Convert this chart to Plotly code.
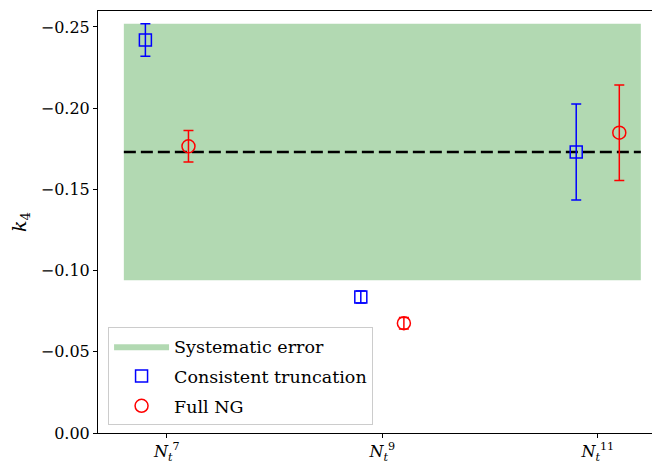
import plotly.graph_objects as go

# Data
truncation_x = [6.8, 8.8, 10.8]
truncation_y = [-0.242, -0.0837, -0.173]
truncation_err = [0.010, 0.0037, 0.0295]

fullng_x = [7.2, 9.2, 11.2]
fullng_y = [-0.1765, -0.0676, -0.1849]
fullng_err = [0.0097, 0.0035, 0.0294]

band_x = [6.6, 11.4]
band_center = -0.173
band_half = 0.079

x_tickvals = [7, 9, 11]
x_ticktext = ["<i>N</i><sub><i>t</i></sub><sup>7</sup>",
              "<i>N</i><sub><i>t</i></sub><sup>9</sup>",
              "<i>N</i><sub><i>t</i></sub><sup>11</sup>"]
y_tickvals = [0.0, -0.05, -0.10, -0.15, -0.20, -0.25]
y_ticktext = ["0.00", "\u22120.05", "\u22120.10", "\u22120.15", "\u22120.20", "\u22120.25"]

FONT = "DejaVu Serif"

fig = go.Figure()

lo = band_center - band_half
hi = band_center + band_half
fig.add_trace(go.Scatter(
    x=[band_x[0], band_x[1], band_x[1], band_x[0], band_x[0]],
    y=[lo, lo, hi, hi, lo],
    fill="toself", fillcolor="rgba(0,128,0,0.3)",
    line=dict(width=0, color="rgba(0,128,0,0)"),
    mode="lines", name="Systematic error", legendgroup="a",
    hoverinfo="skip",
))

fig.add_trace(go.Scatter(
    x=band_x, y=[band_center, band_center], mode="lines",
    line=dict(color="black", width=2.6, dash="12px,5px"),
    showlegend=False,
))

fig.add_trace(go.Scatter(
    x=truncation_x, y=truncation_y, mode="markers",
    marker=dict(symbol="square-open", size=12, color="blue", line=dict(width=1.5, color="blue")),
    error_y=dict(type="data", array=truncation_err, color="blue", thickness=1.5, width=5),
    name="Consistent truncation", legendgroup="b",
))

fig.add_trace(go.Scatter(
    x=fullng_x, y=fullng_y, mode="markers",
    marker=dict(symbol="circle-open", size=13, color="red", line=dict(width=1.5, color="red")),
    error_y=dict(type="data", array=fullng_err, color="red", thickness=1.5, width=5),
    name="Full NG", legendgroup="c",
))

# The page body has an 8px margin; size the figure so the plot area lands where the reference has it.
fig.update_layout(
    width=652, height=458,
    margin=dict(l=90, r=2, t=2, b=32),
    paper_bgcolor="white", plot_bgcolor="white",
    font=dict(family=FONT, size=16, color="black"),
    showlegend=True,
    legend=dict(
        x=0.018, y=0.018, xanchor="left", yanchor="bottom",
        bgcolor="rgba(255,255,255,0.8)", bordercolor="#cccccc", borderwidth=1,
        font=dict(family=FONT, size=17.5), tracegroupgap=4, itemwidth=55,
    ),
    xaxis=dict(
        range=[6.36, 11.55], tickvals=x_tickvals, ticktext=x_ticktext,
        showgrid=False, zeroline=False, showline=True, linecolor="black", linewidth=1,
        mirror=True, ticks="outside", ticklen=4, tickwidth=1, tickcolor="black",
    ),
    yaxis=dict(
        range=[0, -0.2598], tickvals=y_tickvals, ticktext=y_ticktext,
        showgrid=False, zeroline=False, showline=True, linecolor="black", linewidth=1,
        mirror=True, ticks="outside", ticklen=4, tickwidth=1, tickcolor="black",
        title=dict(text="<i>k</i><sub>4</sub>", standoff=12),
    ),
)

fig.write_html("out.html")
